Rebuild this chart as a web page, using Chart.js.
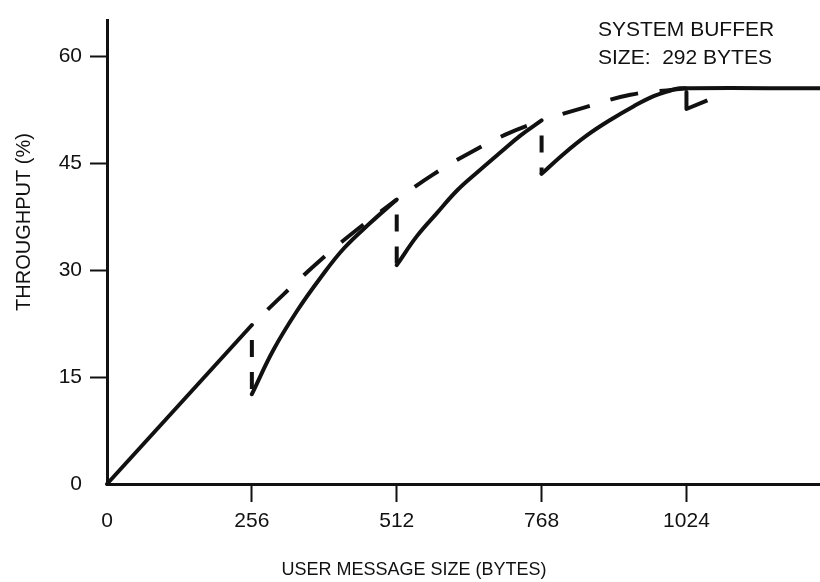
<!DOCTYPE html>
<html>
<head>
<meta charset="utf-8">
<title>Throughput vs user message size</title>
<script src="https://cdn.jsdelivr.net/npm/chart.js@4.4.1/dist/chart.umd.min.js"></script>
<style>
    html, body { margin: 0; padding: 0; background: #fff; }
    canvas { display: block; }
</style>
</head>
<body>
<canvas id="myChart" width="820" height="582"></canvas>
<script>
// tick values on both axes
var xTicks = [0, 256, 512, 768, 1024]
var yTicks = [0, 15, 30, 45, 60]

// actual throughput (solid), null lifts the pen
var solidX = [0, 256, null,
    256, 294, 336, 377, 418, 465, 512, null,
    512, 548, 583, 619, 654, 695, 731, 768, null,
    768, 807, 848, 890, 931, 966, 996, 1012, 1260]
var solidY = [0, 22.3, null,
    12.6, 18.8, 24.3, 28.9, 33.0, 36.6, 39.9, null,
    30.7, 34.8, 38.0, 41.2, 43.7, 46.5, 48.9, 51.0, null,
    43.5, 46.3, 48.9, 51.1, 53.0, 54.4, 55.2, 55.5, 55.5]

// envelope through the peaks (dashed)
var envX = [256, 312, 377, 442, 512, null,
    512, 576, 640, 704, 768, null,
    768, 843, 925, 1000, 1024]
var envY = [22.3, 26.6, 31.4, 35.7, 39.9, null,
    39.9, 43.4, 46.4, 49.0, 51.0, null,
    51.0, 52.8, 54.6, 55.3, 55.5]

// drops where a new buffer is started (dashed)
var dropX = [256, 256, null, 512, 512, null, 768, 768]
var dropY = [22.3, 12.6, null, 39.9, 30.7, null, 51.0, 43.5]

// last drop past 1024
var tailX = [1024, 1024, 1061]
var tailY = [55.0, 52.6, 53.8]

var xTitle = 'USER MESSAGE SIZE (BYTES)'
var yTitle = 'THROUGHPUT (%)'
var noteLines = ['SYSTEM BUFFER', 'SIZE:  292 BYTES']

var ink = '#111'
var family = '"Liberation Sans", Arial, Helvetica, sans-serif'

function toPoints(xs, ys) {
    var pts = []
    for (var i = 0; i < xs.length; i++) {
        pts.push({ x: xs[i], y: ys[i] })
    }
    return pts
}

function hideZero(ctx) {
    if (ctx.tick && ctx.tick.value == 0) {
        return 'rgba(0,0,0,0)'
    }
    return ink
}

// axis titles and the buffer note are placed by hand
var textPlugin = {
    id: 'textPlugin',
    afterDraw: function (chart) {
        var c = chart.ctx
        c.save()
        c.fillStyle = ink
        c.textBaseline = 'middle'

        c.font = '18px ' + family
        c.textAlign = 'center'
        c.fillText(xTitle, 414, 570)

        c.save()
        c.translate(24, 222)
        c.rotate(-Math.PI / 2)
        c.font = '20px ' + family
        c.fillText(yTitle, 0, 0)
        c.restore()

        c.font = '21px ' + family
        c.textAlign = 'left'
        c.fillText(noteLines[0], 598, 30)
        c.fillText(noteLines[1], 598, 58)
        c.restore()
    }
}

Chart.defaults.font.family = family
Chart.defaults.color = ink

var ctx = document.getElementById('myChart').getContext('2d')
var myChart = new Chart(ctx, {
    type: 'line',
    data: {
        datasets: [{
            data: toPoints(solidX, solidY),
            borderColor: ink,
            borderWidth: 4,
            borderCapStyle: 'round',
            borderJoinStyle: 'round',
            tension: 0.4,
            pointRadius: 0
        }, {
            data: toPoints(envX, envY),
            borderColor: ink,
            borderWidth: 4,
            borderDash: [28, 22],
            borderDashOffset: 28,
            tension: 0.4,
            pointRadius: 0
        }, {
            data: toPoints(dropX, dropY),
            borderColor: ink,
            borderWidth: 4,
            borderDash: [17, 15],
            borderDashOffset: 17,
            tension: 0,
            pointRadius: 0
        }, {
            data: toPoints(tailX, tailY),
            borderColor: ink,
            borderWidth: 4,
            borderJoinStyle: 'round',
            tension: 0,
            pointRadius: 0
        }]
    },
    options: {
        responsive: false,
        animation: false,
        devicePixelRatio: 1,
        clip: false,
        layout: {
            padding: { top: 10, right: 0, bottom: 0, left: 0 }
        },
        plugins: {
            legend: { display: false },
            tooltip: { enabled: false }
        },
        scales: {
            x: {
                type: 'linear',
                min: 0,
                max: 1260,
                afterFit: function (s) { s.height = 98 },
                afterBuildTicks: function (s) {
                    s.ticks = xTicks.map(v => ({ value: v }))
                },
                grid: {
                    drawOnChartArea: false,
                    tickLength: 18,
                    tickWidth: 2,
                    tickColor: hideZero
                },
                border: { color: ink, width: 3 },
                ticks: {
                    font: { size: 21 },
                    padding: 7,
                    maxRotation: 0,
                    autoSkip: false,
                    color: ink,
                    callback: function (v) { return String(v) }
                }
            },
            y: {
                type: 'linear',
                min: 0,
                max: 65,
                afterFit: function (s) { s.width = 107 },
                afterBuildTicks: function (s) {
                    s.ticks = yTicks.map(v => ({ value: v }))
                },
                grid: {
                    drawOnChartArea: false,
                    tickLength: 17,
                    tickWidth: 2,
                    tickColor: hideZero
                },
                border: { color: ink, width: 3 },
                ticks: {
                    font: { size: 21 },
                    padding: 8,
                    autoSkip: false,
                    color: ink,
                    callback: function (v) { return String(v) }
                }
            }
        }
    },
    plugins: [textPlugin]
});
</script>
</body>
</html>
